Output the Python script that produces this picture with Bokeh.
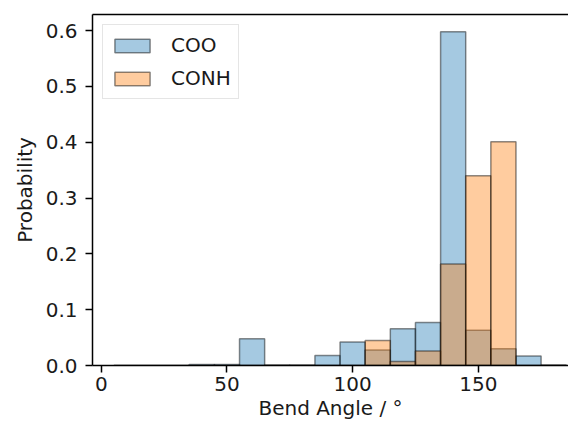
from bokeh.plotting import figure
from bokeh.models import (LinearAxis, Range1d, Legend, LegendItem, FixedTicker,
                          ColumnDataSource, NumeralTickFormatter)
from bokeh.embed import file_html
from bokeh.resources import INLINE

# Histogram bin edges (degrees) and probabilities per bin
bin_edges = [5, 15, 25, 35, 45, 55, 65, 75, 85, 95, 105, 115, 125, 135, 145, 155, 165, 175, 185]
coo_prob = [0.0, 0.0, 0.0, 0.002, 0.002, 0.048, 0.001, 0.001, 0.018, 0.042,
            0.028, 0.066, 0.077, 0.598, 0.063, 0.030, 0.017, 0.001]
conh_prob = [0.0, 0.0, 0.0, 0.0, 0.0, 0.0, 0.0, 0.0, 0.0, 0.0,
             0.045, 0.007, 0.026, 0.182, 0.340, 0.401, 0.0, 0.0]
x_ticks = [0, 50, 100, 150]
y_ticks = [0.0, 0.1, 0.2, 0.3, 0.4, 0.5, 0.6]
x_label = "Bend Angle / °"
y_label = "Probability"

FONT = "DejaVu Sans"
TXT = "#1a1a1a"
FS = "20px"

p = figure(width=568, height=422, output_backend="svg", toolbar_location=None,
           x_range=Range1d(-3.5, 185.9), y_range=Range1d(0, 0.629),
           min_border_left=92, min_border_right=0, min_border_top=14, min_border_bottom=20)
p.background_fill_color = "white"
p.border_fill_color = "white"
p.outline_line_color = None
p.xgrid.visible = False
p.ygrid.visible = False

left = bin_edges[:-1]
right = bin_edges[1:]
src_coo = ColumnDataSource(dict(left=left, right=right, top=coo_prob, bottom=[0] * len(coo_prob)))
src_conh = ColumnDataSource(dict(left=left, right=right, top=conh_prob, bottom=[0] * len(conh_prob)))

r1 = p.quad(left="left", right="right", top="top", bottom="bottom", source=src_coo,
            fill_color="#1f77b4", fill_alpha=0.4, line_color="black", line_alpha=0.45, line_width=1.5)
r2 = p.quad(left="left", right="right", top="top", bottom="bottom", source=src_conh,
            fill_color="#ff7f0e", fill_alpha=0.4, line_color="black", line_alpha=0.45, line_width=1.5)

for ax in (p.xaxis[0], p.yaxis[0]):
    ax.axis_line_color = "black"
    ax.axis_line_width = 1.5
    ax.major_tick_line_color = "black"
    ax.major_tick_line_width = 1.5
    ax.major_tick_out = 7
    ax.major_tick_in = 0
    ax.minor_tick_line_color = None
    ax.major_label_text_font = FONT
    ax.major_label_text_font_size = FS
    ax.major_label_text_color = TXT
    ax.axis_label_text_font = FONT
    ax.axis_label_text_font_size = FS
    ax.axis_label_text_font_style = "normal"
    ax.axis_label_text_color = TXT

p.xaxis[0].ticker = FixedTicker(ticks=x_ticks)
p.yaxis[0].ticker = FixedTicker(ticks=y_ticks)
p.yaxis[0].formatter = NumeralTickFormatter(format="0.0")
p.xaxis[0].axis_label = x_label
p.yaxis[0].axis_label = y_label
p.xaxis[0].major_label_standoff = 4
p.xaxis[0].axis_label_standoff = 2
p.yaxis[0].major_label_standoff = 8
p.yaxis[0].axis_label_standoff = 6

top_axis = LinearAxis(ticker=FixedTicker(ticks=[]), axis_line_color="black", axis_line_width=1.5,
                      major_tick_line_color=None, minor_tick_line_color=None,
                      major_tick_out=0, major_tick_in=0, major_label_standoff=0)
p.add_layout(top_axis, "above")

legend = Legend(items=[LegendItem(label="COO", renderers=[r1]),
                       LegendItem(label="CONH", renderers=[r2])],
                location="top_left", margin=10, padding=7, spacing=7,
                glyph_width=44, glyph_height=17, label_height=26, label_standoff=17,
                label_text_font=FONT, label_text_font_size=FS, label_text_color=TXT,
                border_line_color="#cccccc", border_line_width=1.5,
                background_fill_color="white", background_fill_alpha=0.8)
p.add_layout(legend, "center")

open("out.html", "w").write(file_html(p, INLINE))
